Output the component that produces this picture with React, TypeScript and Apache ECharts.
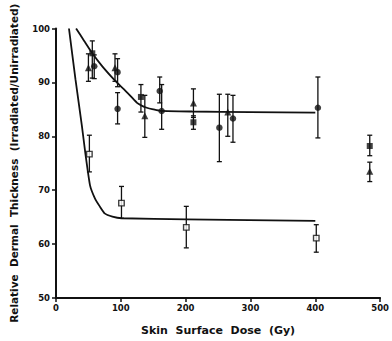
import React, { useEffect, useRef } from "react";
import * as echarts from "echarts";

// Trend curves drawn through the data (dose Gy, relative thickness %)
const upperCurve = [
  [31, 100], [43.5, 97.7], [56, 95.4], [70.5, 93.1], [85, 91.1], [94.5, 89.9],
  [105, 88.7], [115.5, 87.4], [125, 86.2], [132, 85.7], [140, 85.3], [150, 85.0],
  [162.5, 84.7], [210, 84.6], [300, 84.5], [400, 84.4],
];
const lowerCurve = [
  [20, 100], [30, 90.6], [40, 81.9], [45, 77.1], [52.5, 70.9], [60, 68.5],
  [67.5, 67.0], [75, 65.7], [87, 65.1], [101, 64.8], [201, 64.6], [400, 64.3],
];

// Measurements: [dose, mean, low, high]
const filledSquares = [
  [56, 95.4, 90.8, 97.7],
  [131, 87.3, 84.5, 89.6],
  [212, 82.6, 81.3, 83.8],
  [484, 78.2, 76.4, 80.2],
];
const filledTriangles = [
  [50, 92.7, 90.2, 95.3],
  [91, 92.7, 90.2, 95.3],
  [137, 83.8, 79.8, 87.6],
  [212, 86.2, 83.5, 88.8],
  [265, 84.5, 80.0, 87.8],
  [484, 73.5, 71.6, 75.2],
];
const filledCircles = [
  [59, 93.0, 90.7, 95.1],
  [95, 91.9, 89.2, 94.4],
  [95, 85.1, 82.3, 88.1],
  [160, 88.4, 86.2, 91.0],
  [163, 84.7, 81.3, 89.6],
  [252, 81.6, 75.3, 87.8],
  [273, 83.3, 78.9, 87.6],
  [404, 85.3, 79.7, 91.0],
];
const openSquares = [
  [51.5, 76.7, 73.4, 80.2],
  [101, 67.6, 64.8, 70.7],
  [201, 63.1, 59.3, 67.0],
  [401.5, 61.1, 58.5, 63.6],
];

const xTitle = "Skin  Surface  Dose  (Gy)";
const yTitle = "Relative  Dermal  Thickness  (Irradiated/Unirradiated)";

const FONT = "'DejaVu Sans', sans-serif";

export default function App() {
  const ref = useRef<HTMLDivElement>(null);

  useEffect(() => {
    if (!ref.current) return;
    const chart = echarts.init(ref.current, null, { renderer: "svg" });

    const allBars = [...filledSquares, ...filledTriangles, ...filledCircles, ...openSquares];

    const errorBars = {
      type: "custom",
      data: allBars,
      encode: { x: 0, y: [1, 2, 3] },
      z: 1,
      renderItem: (_params: any, api: any) => {
        const x = api.value(0);
        const lo = api.coord([x, api.value(2)]);
        const hi = api.coord([x, api.value(3)]);
        const w = 2.5;
        const style = { stroke: "#111", lineWidth: 1.3 };
        return {
          type: "group",
          children: [
            { type: "line", shape: { x1: lo[0], y1: lo[1], x2: hi[0], y2: hi[1] }, style },
            { type: "line", shape: { x1: lo[0] - w, y1: lo[1], x2: lo[0] + w, y2: lo[1] }, style },
            { type: "line", shape: { x1: hi[0] - w, y1: hi[1], x2: hi[0] + w, y2: hi[1] }, style },
          ],
        };
      },
    };

    const pts = (arr: number[][]) => arr.map((d) => [d[0], d[1]]);

    const curve = (data: number[][]) => ({
      type: "line",
      data,
      smooth: 0.15,
      showSymbol: false,
      lineStyle: { color: "#111", width: 1.8 },
      z: 2,
    });

    chart.setOption({
      animation: false,
      grid: { left: 50, right: 9, top: 28.5, bottom: 40.5 },
      xAxis: {
        type: "value",
        min: 0,
        max: 500,
        interval: 100,
        name: xTitle,
        nameLocation: "middle",
        nameGap: 27,
        nameTextStyle: { color: "#111", fontFamily: FONT, fontWeight: "bold", fontSize: 11 },
        axisLine: { lineStyle: { color: "#111", width: 2 } },
        axisTick: { show: true, length: 4, lineStyle: { color: "#111", width: 1.5 } },
        axisLabel: { color: "#111", fontFamily: FONT, fontSize: 8.5, fontWeight: "bold", margin: 5 },
        splitLine: { show: false },
      },
      yAxis: {
        type: "value",
        min: 50,
        max: 100,
        interval: 10,
        name: yTitle,
        nameLocation: "middle",
        nameGap: 37,
        nameTextStyle: { color: "#111", fontFamily: FONT, fontWeight: "bold", fontSize: 10.5 },
        axisLine: { show: true, lineStyle: { color: "#111", width: 2 } },
        axisTick: { show: true, length: 4, lineStyle: { color: "#111", width: 1.5 } },
        axisLabel: { color: "#111", fontFamily: FONT, fontSize: 8.5, fontWeight: "bold", margin: 6 },
        splitLine: { show: false },
      },
      series: [
        errorBars,
        curve(upperCurve),
        curve(lowerCurve),
        {
          type: "scatter",
          data: pts(filledSquares),
          symbol: "rect",
          symbolSize: 6,
          itemStyle: { color: "#111" },
          z: 3,
        },
        {
          type: "scatter",
          data: pts(filledTriangles),
          symbol: "triangle",
          symbolSize: 7,
          itemStyle: { color: "#111" },
          z: 3,
        },
        {
          type: "scatter",
          data: pts(filledCircles),
          symbol: "circle",
          symbolSize: 6.5,
          itemStyle: { color: "#111" },
          z: 3,
        },
        {
          type: "scatter",
          data: pts(openSquares),
          symbol: "rect",
          symbolSize: 5.5,
          itemStyle: { color: "#fff", borderColor: "#111", borderWidth: 1.4 },
          z: 3,
        },
      ],
    });

    return () => chart.dispose();
  }, []);

  return <div ref={ref} style={{ width: 392, height: 341, position: "absolute", left: 0, top: 0, background: "#fff" }} />;
}
